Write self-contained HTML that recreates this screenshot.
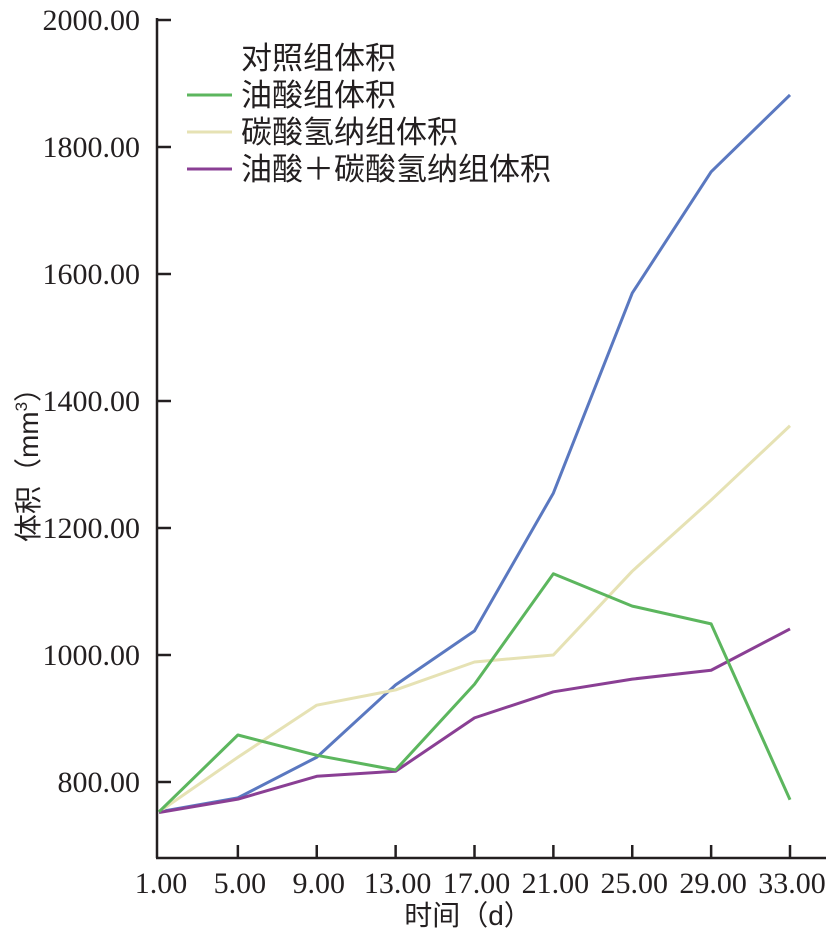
<!DOCTYPE html>
<html><head><meta charset="utf-8"><style>
body{margin:0;background:#fff}
svg{display:block}
text{font-family:"Liberation Serif","Noto Serif CJK SC",serif;fill:#231f20}
.cj{font-family:"Liberation Sans","Noto Sans CJK SC",sans-serif}
</style></head><body>
<svg id="chart" width="828" height="933" viewBox="0 0 828 933"></svg>
<script>
const days=[1,5,9,13,17,21,25,29,33];
const xTickLabels=["1.00","5.00","9.00","13.00","17.00","21.00","25.00","29.00","33.00"];
const yTicks=[800,1000,1200,1400,1600,1800,2000];
const yTickLabels=["800.00","1000.00","1200.00","1400.00","1600.00","1800.00","2000.00"];
const controlVals=[753,775,839,953,1038,1255,1570,1761,1882];
const oleicVals=[753,874,842,819,954,1128,1077,1049,772];
const bicarbVals=[753,839,921,945,989,1000,1132,1244,1361];
const comboVals=[752,773,809,817,901,942,962,976,1041];
const seriesNames=["对照组体积","油酸组体积","碳酸氢纳组体积","油酸＋碳酸氢纳组体积"];

const NS="http://www.w3.org/2000/svg";
const svg=document.getElementById('chart');
function xs(d){return 159+(d-1)*(790-159)/32;}
function ys(v){return 782-(v-800)*0.635;}
function mk(tag,attrs,parent){const e=document.createElementNS(NS,tag);for(const k in attrs)e.setAttribute(k,attrs[k]);(parent||svg).appendChild(e);return e;}

let ax=mk('line',{x1:157,y1:18,x2:157,y2:858,stroke:'#231f20','stroke-width':2.5});


ax=mk('line',{x1:156,y1:858,x2:826,y2:858,stroke:'#231f20','stroke-width':2.5});



yTicks.forEach((v,i)=>{
  const y=ys(v);
  const t=mk('line',{x1:157,y1:y,x2:171,y2:y,stroke:'#231f20','stroke-width':2.5});
  
  
  const l=mk('text',{x:140,y:y+10,'text-anchor':'end','font-size':30});
  l.textContent=yTickLabels[i];
  
  
});
days.forEach((d,i)=>{
  const x=xs(d);
  if(i>0){const t=mk('line',{x1:x,y1:858,x2:x,y2:845,stroke:'#231f20','stroke-width':2.5});
  
  }
  const l=mk('text',{x:x+2,y:893,'text-anchor':'middle','font-size':30});
  l.textContent=xTickLabels[i];
  
  
});
let xt=mk('text',{x:468,y:925,'text-anchor':'middle','font-size':28,'class':'cj'});
xt.textContent='时间（d）';


let yt=mk('text',{x:0,y:0,'text-anchor':'middle','font-size':28,'class':'cj',transform:'translate(38,458) rotate(-90)'});
yt.innerHTML='体积（mm<tspan font-size="17" dy="-11">3</tspan><tspan dy="11">）</tspan>';



const series=[[controlVals,'#5a78c0','control'],[bicarbVals,'#e6e2b4','bicarbonate'],[comboVals,'#8a3f94','oleic-bicarbonate'],[oleicVals,'#5cb65e','oleic']];
series.forEach(s=>{
  const p=mk('polyline',{points:s[0].map((v,i)=>xs(days[i])+','+ys(v)).join(' '),fill:'none',stroke:s[1],'stroke-width':3,'stroke-linejoin':'round'});
  
  
});

const legColors=[null,'#5cb65e','#e6e2b4','#8a3f94'];
seriesNames.forEach((n,i)=>{
  const y=58+i*37;
  if(legColors[i]){const l=mk('line',{x1:187,y1:y,x2:232,y2:y,stroke:legColors[i],'stroke-width':3});
  
  }
  const t=mk('text',{x:241,y:y+11,'font-size':31,'class':'cj'});
  t.textContent=n;
  
  
});
</script>
</body></html>
